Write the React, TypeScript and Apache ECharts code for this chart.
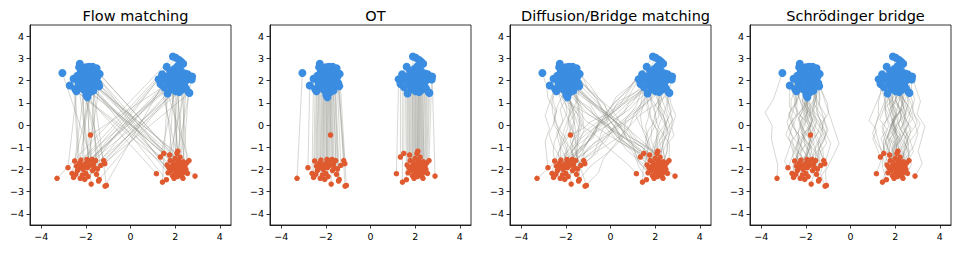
import { useEffect, useRef } from 'react';
import * as echarts from 'echarts';

// Panel titles and tick positions
const TITLES = ['Flow matching', 'OT', 'Diffusion/Bridge matching', 'Schrödinger bridge'];
const X_TICKS = [-4, -2, 0, 2, 4];
const Y_TICKS = [-4, -3, -2, -1, 0, 1, 2, 3, 4];

// Source samples (orange), two clusters around y = -2
const SOURCE_LEFT: number[][] = [
  [-3.29, -2.4], [-2.8, -1.92], [-2.62, -2.18], [-2.55, -2.36], [-2.5, -1.62], [-2.42, -1.85],
  [-2.38, -2.05], [-2.33, -1.95], [-2.28, -1.72], [-2.22, -1.58], [-2.18, -1.88], [-2.15, -2.25],
  [-2.12, -2.0], [-2.08, -1.78], [-2.05, -2.45], [-2.0, -2.18], [-1.97, -1.7], [-1.93, -1.92],
  [-1.9, -2.32], [-1.86, -1.62], [-1.82, -1.82], [-1.79, -0.45], [-1.76, -2.66], [-1.72, -1.55],
  [-1.7, -2.05], [-1.66, -1.75], [-1.62, -1.92], [-1.56, -1.6], [-1.52, -2.22], [-1.48, -1.98],
  [-1.43, -2.52], [-1.4, -2.45], [-1.33, -1.82], [-1.2, -1.6], [-1.15, -1.74], [-1.14, -2.75],
  [-1.08, -2.72], [-2.45, -2.22], [-2.25, -2.4], [-1.95, -1.55],
];
const SOURCE_RIGHT: number[][] = [
  [1.16, -2.19], [1.34, -1.44], [1.49, -1.28], [1.43, -2.57], [1.61, -2.46], [1.64, -1.8],
  [1.68, -2.15], [1.72, -1.92], [1.78, -1.6], [1.82, -2.05], [1.86, -1.85], [1.88, -2.28],
  [1.92, -1.7], [1.95, -2.4], [1.98, -1.95], [2.02, -2.15], [2.05, -1.78], [2.08, -1.28],
  [2.1, -2.32], [2.12, -2.02], [2.15, -1.62], [2.18, -1.88], [2.2, -2.2], [2.22, -1.45],
  [2.25, -2.05], [2.28, -1.75], [2.3, -2.3], [2.33, -1.95], [2.36, -1.65], [2.4, -2.12],
  [2.44, -1.85], [2.48, -2.0], [2.52, -1.7], [2.55, -2.18], [2.62, -1.6], [2.89, -2.3],
  [2.0, -1.5], [1.75, -1.35], [2.35, -2.4], [2.12, -1.18],
];

// Target samples (blue), two clusters around y = 2
const TARGET_LEFT: number[][] = [
  [-3.05, 2.34], [-2.72, 1.78], [-2.55, 2.08], [-2.48, 1.62], [-2.42, 1.52], [-2.38, 2.22],
  [-2.33, 1.9], [-2.27, 2.76], [-2.24, 2.35], [-2.2, 1.72], [-2.16, 2.05], [-2.12, 2.48],
  [-2.1, 1.6], [-2.06, 2.22], [-2.03, 1.88], [-2.0, 2.6], [-1.98, 1.36], [-1.96, 2.1],
  [-1.93, 1.25], [-1.9, 2.42], [-1.88, 1.7], [-1.86, 2.62], [-1.84, 1.98], [-1.82, 2.28],
  [-1.8, 1.48], [-1.77, 2.5], [-1.75, 1.82], [-1.72, 2.16], [-1.7, 2.62], [-1.66, 1.55],
  [-1.63, 2.38], [-1.6, 2.02], [-1.56, 1.78], [-1.52, 2.55], [-1.48, 2.18], [-1.44, 1.88],
  [-1.4, 1.74], [-1.38, 2.3], [-2.3, 2.6], [-2.08, 1.95],
];
const TARGET_RIGHT: number[][] = [
  [1.26, 2.06], [1.34, 1.84], [1.42, 2.28], [1.5, 1.7], [1.56, 2.05], [1.62, 2.62],
  [1.66, 1.42], [1.7, 2.2], [1.74, 1.88], [1.78, 2.42], [1.82, 1.62], [1.86, 2.12],
  [1.9, 3.08], [1.93, 1.8], [1.96, 2.52], [2.0, 2.3], [2.02, 1.52], [2.04, 3.02],
  [2.07, 2.0], [2.1, 2.65], [2.13, 1.72], [2.16, 2.2], [2.19, 2.92], [2.22, 1.92],
  [2.25, 2.45], [2.28, 2.84], [2.3, 1.58], [2.33, 2.1], [2.36, 2.76], [2.4, 1.8],
  [2.44, 2.32], [2.48, 1.66], [2.52, 2.02], [2.56, 2.28], [2.6, 1.48], [2.64, 1.44],
  [2.76, 2.18], [2.74, 2.05], [1.88, 2.0], [2.18, 1.48],
];

// Independent coupling: target index drawn for each source
const INDEPENDENT_PAIR = [
  52, 7, 33, 61, 14, 45, 70, 2, 27, 58,
  19, 66, 40, 11, 75, 36, 48, 23, 63, 5,
  31, 78, 9, 55, 16, 42, 68, 29, 0, 50,
  21, 73, 38, 12, 60, 44, 25, 77, 3, 57,
  18, 65, 34, 47, 8, 71, 26, 53, 39, 1,
  62, 15, 43, 30, 76, 10, 56, 22, 67, 4,
  49, 35, 72, 13, 59, 28, 41, 6, 74, 20,
  54, 37, 64, 17, 46, 32, 79, 24, 69, 51,
];

// Horizontal bridge deviations (tenths) at 7 interior steps of every path
const BRIDGE_NOISE = [
  [1, 2, 1, 3, 2, 2, 1], [-1, -2, -1, -3, -2, -1, 0], [0, 1, 3, 2, 4, 2, 1], [1, 0, -1, -2, -1, -1, 0],
  [-1, -1, 0, 1, 2, 1, 1], [2, 3, 2, 1, 0, 1, 0], [0, -1, -3, -4, -3, -2, -1], [1, 1, 2, 0, -1, -1, 0],
  [-1, 0, 2, 3, 2, 3, 1], [0, -2, -2, -1, -3, -2, -1], [1, 3, 4, 3, 2, 1, 1], [-2, -1, -2, 0, 1, 0, 0],
  [0, 1, 0, -1, 1, 2, 1], [1, -1, -2, -3, -2, 0, -1], [-1, -2, 0, 1, 0, -1, 0], [2, 1, 3, 4, 3, 2, 0],
  [0, 0, -1, 1, 2, 0, 1], [-1, -3, -4, -2, -3, -1, -1], [1, 2, 0, -1, 0, 1, 0], [0, -1, 1, 2, 4, 3, 1],
  [-2, -1, -3, -2, -1, -2, -1], [1, 0, 2, 1, -1, 0, 1], [0, 2, 1, 3, 1, 2, 0], [-1, 0, -2, -1, -3, -1, 0],
  [2, 2, 0, 1, 2, 1, 1], [0, -1, -1, -3, -2, -3, -1], [1, 3, 2, 0, 1, 0, 0], [-1, -1, 1, 2, 1, 2, 1],
  [0, 1, -1, -2, 0, -1, 0], [-2, -3, -2, -4, -3, -1, -1], [1, 0, 1, 3, 2, 1, 0], [0, 2, 3, 2, 0, -1, 0],
  [-1, 0, 0, -1, -2, -2, -1], [1, -1, 0, 2, 3, 1, 1], [0, -2, -3, -1, 0, 1, 0], [2, 1, 2, 3, 1, 2, 1],
  [-1, -2, -1, 0, -1, -2, 0], [0, 1, 2, 1, 3, 1, 0], [1, 0, -2, -3, -1, 0, -1], [-1, 1, 0, 2, 1, 0, 1],
  [0, -1, -2, -2, -4, -2, -1], [1, 2, 3, 1, 2, 0, 0], [-2, -1, 0, -1, 1, 1, 0], [0, 1, 1, -1, -2, -1, -1],
  [1, 3, 2, 4, 3, 2, 1], [-1, -1, -3, -2, 0, -1, 0], [0, 2, 1, 0, 2, 3, 1], [2, 0, -1, -2, -1, -2, -1],
  [-1, -2, 0, 1, 3, 1, 0], [0, 0, 2, 3, 2, 0, 1], [1, -1, -1, 0, -2, -1, 0], [-1, 1, 3, 2, 1, 2, 1],
  [0, -2, -1, -3, -4, -2, -1], [1, 2, 1, 2, 0, 1, 0], [-2, -2, -1, 1, 2, 0, 0], [0, 1, -1, 0, -1, -2, -1],
  [1, 0, 2, 4, 3, 1, 1], [-1, -3, -2, -1, -2, -1, 0], [0, 1, 0, 2, 1, 2, 1], [2, 1, -1, -2, -3, -1, -1],
  [-1, 0, 1, 0, 2, 1, 0], [0, -1, -3, -2, -1, 0, 0], [1, 2, 2, 3, 4, 2, 1], [-1, -2, -2, 0, -1, -1, -1],
  [0, 1, 3, 1, 0, 1, 0], [1, -1, 0, -2, -1, -2, 0], [-2, -1, 1, 2, 1, 1, 1], [0, 2, 0, -1, -3, -2, -1],
  [1, 1, 3, 2, 2, 0, 0], [-1, -2, -4, -3, -2, -2, -1], [0, 0, 1, 3, 2, 1, 1], [2, 1, 0, -1, 0, -1, 0],
  [-1, 1, 2, 1, -1, 0, 0], [0, -1, -2, -4, -3, -1, -1], [1, 2, 1, 0, 2, 2, 1], [-1, 0, -1, 1, 0, -1, 0],
  [0, 2, 4, 3, 2, 1, 0], [1, -1, -2, -1, -2, 0, -1], [-2, -1, 0, 1, 3, 2, 1], [0, 1, -1, -2, -1, -1, 0],
];

const BLUE = '#3a8de0';
const ORANGE = '#df5a2f';
const PATH_COLOR = '#8a8a82';
const FONT = 'DejaVu Sans';
const GRID_LEFTS = [30, 270, 510, 750];
const GRID_TOP = 25;
const GRID_W = 201;
const GRID_H = 200;

const sources = [...SOURCE_LEFT, ...SOURCE_RIGHT];
const targets = [...TARGET_LEFT, ...TARGET_RIGHT];

// Optimal transport within each column: match sources to targets by x rank
function otPairing(): number[] {
  const pair: number[] = new Array(sources.length);
  const match = (srcOff: number, tgtOff: number, n: number) => {
    const idx = Array.from({ length: n }, (_, i) => i);
    const s = [...idx].sort((a, b) => sources[srcOff + a][0] - sources[srcOff + b][0]);
    const t = [...idx].sort((a, b) => targets[tgtOff + a][0] - targets[tgtOff + b][0]);
    s.forEach((si, k) => { pair[srcOff + si] = tgtOff + t[k]; });
  };
  match(0, 0, SOURCE_LEFT.length);
  match(SOURCE_LEFT.length, TARGET_LEFT.length, SOURCE_RIGHT.length);
  return pair;
}

function bridgePath(s: number[], g: number[], dev: number[], unit: number): number[][] {
  const n = dev.length + 1;
  const pts: number[][] = [s];
  for (let j = 1; j < n; j++) {
    const t = j / n;
    pts.push([s[0] + (g[0] - s[0]) * t + dev[j - 1] * unit, s[1] + (g[1] - s[1]) * t]);
  }
  pts.push(g);
  return pts;
}

const fmtTick = (v: number) => (v < 0 ? '\u2212' + Math.abs(v) : String(v));

function buildOption() {
  const ot = otPairing();
  const panelPaths: number[][][][] = [
    sources.map((s, i) => [s, targets[INDEPENDENT_PAIR[i]]]),
    sources.map((s, i) => [s, targets[ot[i]]]),
    sources.map((s, i) => bridgePath(s, targets[INDEPENDENT_PAIR[i]], BRIDGE_NOISE[i], 0.13)),
    sources.map((s, i) =>
      bridgePath(s, targets[ot[i]], BRIDGE_NOISE[(i + 40) % BRIDGE_NOISE.length], 0.17)),
  ];

  const axisText = { fontSize: 9.5, color: '#000', fontFamily: FONT };
  const series: any[] = [];
  panelPaths.forEach((paths, k) => {
    series.push({
      type: 'lines',
      coordinateSystem: 'cartesian2d',
      xAxisIndex: k,
      yAxisIndex: k,
      polyline: true,
      silent: true,
      lineStyle: { color: PATH_COLOR, width: 0.9, opacity: 0.38 },
      data: paths.map((coords) => ({ coords })),
      z: 1,
    });
    series.push({
      type: 'scatter',
      xAxisIndex: k,
      yAxisIndex: k,
      symbolSize: 5.5,
      itemStyle: { color: ORANGE, opacity: 1 },
      data: sources,
      z: 2,
    });
    series.push({
      type: 'scatter',
      xAxisIndex: k,
      yAxisIndex: k,
      symbolSize: 8,
      itemStyle: { color: BLUE, opacity: 1 },
      data: targets,
      z: 3,
    });
  });

  return {
    animation: false,
    backgroundColor: '#fff',
    title: TITLES.map((text, k) => ({
      text,
      left: GRID_LEFTS[k] + GRID_W / 2,
      top: 3,
      textAlign: 'center',
      textStyle: { fontSize: 14.5, fontWeight: 'normal', color: '#000', fontFamily: FONT },
    })),
    grid: GRID_LEFTS.map((left) => ({
      left,
      top: GRID_TOP,
      width: GRID_W,
      height: GRID_H,
      show: true,
      borderColor: '#000',
      borderWidth: 0.8,
      backgroundColor: 'transparent',
    })),
    xAxis: GRID_LEFTS.map((_, k) => ({
      type: 'value',
      gridIndex: k,
      min: -4.5,
      max: 4.5,
      splitLine: { show: false },
      axisLine: { show: true, onZero: false, lineStyle: { color: '#000', width: 0.8 } },
      axisTick: { show: true, inside: false, length: 3.5, customValues: X_TICKS, lineStyle: { color: '#000', width: 0.8 } },
      axisLabel: { ...axisText, margin: 6, customValues: X_TICKS, formatter: fmtTick },
    })),
    yAxis: GRID_LEFTS.map((_, k) => ({
      type: 'value',
      gridIndex: k,
      min: -4.5,
      max: 4.5,
      splitLine: { show: false },
      axisLine: { show: true, onZero: false, lineStyle: { color: '#000', width: 0.8 } },
      axisTick: { show: true, inside: false, length: 3.5, customValues: Y_TICKS, lineStyle: { color: '#000', width: 0.8 } },
      axisLabel: { ...axisText, margin: 6, customValues: Y_TICKS, formatter: fmtTick },
    })),
    series,
  };
}

export default function App() {
  const ref = useRef<HTMLDivElement>(null);
  useEffect(() => {
    if (!ref.current) return;
    const chart = echarts.init(ref.current, undefined, { renderer: 'svg' });
    chart.setOption(buildOption() as any);
    return () => chart.dispose();
  }, []);
  return (
    <div
      ref={ref}
      style={{ position: 'fixed', left: 0, top: 0, width: 958, height: 278, background: '#fff' }}
    />
  );
}
